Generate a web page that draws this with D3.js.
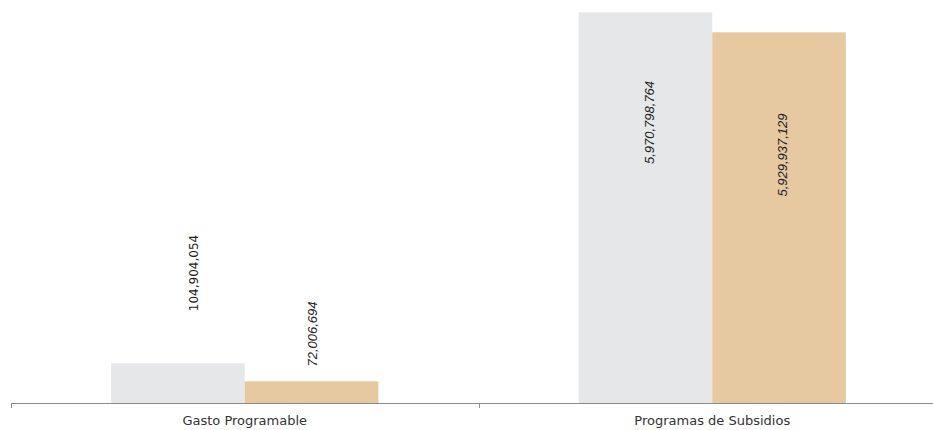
<!DOCTYPE html>
<html><head><meta charset="utf-8">
<script src="https://cdn.jsdelivr.net/npm/d3@7"></script>
<style>
html,body{margin:0;padding:0;background:#fff;}
svg{display:block;}
</style></head>
<body>
<svg id="chart" width="933" height="430"></svg>
<script>
const categories = ["Gasto Programable", "Programas de Subsidios"];
const seriesNames = ["Serie 1", "Serie 2"];
const series1 = [104904054, 5970798764];
const series2 = [72006694, 5929937129];
const labels1 = ["104,904,054", "5,970,798,764"];
const labels2 = ["72,006,694", "5,929,937,129"];
// per-category value domains (each category drawn on its own scale)
const catDomains = [[32350000, 746400000], [5172400000, 5970800000]];

(function () {
const colors = ["#E6E7E9", "#E6C9A0"];
const svg = d3.select("#chart");
const baseline = 403, plotTop = 12.3;

const x0 = d3.scaleBand().domain(categories).range([11, 946]).paddingInner(0).paddingOuter(0);
const x1 = d3.scaleBand().domain(seriesNames).range([0, x0.bandwidth()]).paddingInner(0).paddingOuter(0.75);
const yScales = catDomains.map(d => d3.scaleLinear().domain(d).range([baseline, plotTop]));

const data = categories.map((c, i) => ({
  cat: c, i,
  vals: [
    {s: seriesNames[0], v: series1[i], label: labels1[i]},
    {s: seriesNames[1], v: series2[i], label: labels2[i]}
  ]
}));

const groups = svg.selectAll("g.cat").data(data).join("g")
  .attr("class", "cat")
  .attr("transform", d => `translate(${x0(d.cat)},0)`);

groups.selectAll("rect").data(d => d.vals.map(v => ({...v, i: d.i}))).join("rect")
  .attr("x", d => x1(d.s))
  .attr("width", x1.bandwidth())
  .attr("y", d => yScales[d.i](d.v))
  .attr("height", d => baseline - yScales[d.i](d.v))
  .attr("fill", d => colors[seriesNames.indexOf(d.s)]);

// label placement (layout)
const labelPos = [
  [{dx: 20, y: 273, font: "DejaVu Sans", italic: false, size: 12}, {dx: 5, y: 334, font: "Liberation Sans", italic: true, size: 13}],
  [{dx: 9, y: 122.5, font: "Liberation Sans", italic: true, size: 13}, {dx: 8, y: 155, font: "Liberation Sans", italic: true, size: 13}]
];

groups.each(function(d) {
  const g = d3.select(this);
  d.vals.forEach((v, j) => {
    const p = labelPos[d.i][j];
    const cx = x1(v.s) + x1.bandwidth() / 2 + p.dx;
    g.append("text")
      .attr("transform", `translate(${cx},${p.y}) rotate(-90)`)
      .attr("text-anchor", "middle")
      .attr("font-family", p.font)
      .attr("font-size", p.size)
      .attr("font-style", p.italic ? "italic" : "normal")
      .attr("fill", "#222")
      .text(v.label);
  });
});

// axis
const axisG = svg.append("g").attr("transform", `translate(0,${baseline})`);
axisG.append("line").attr("x1", 11).attr("x2", 933).attr("y1", 0.5).attr("y2", 0.5)
  .attr("stroke", "#8a8a8a").attr("stroke-width", 1);
axisG.selectAll("line.tick").data(categories).join("line")
  .attr("class", "tick")
  .attr("x1", d => Math.round(x0(d)) + 0.5).attr("x2", d => Math.round(x0(d)) + 0.5)
  .attr("y1", 0).attr("y2", 5)
  .attr("stroke", "#8a8a8a");
axisG.selectAll("text").data(categories).join("text")
  .attr("x", d => x0(d) + x0.bandwidth() / 2)
  .attr("y", 22)
  .attr("text-anchor", "middle")
  .attr("font-family", "DejaVu Sans")
  .attr("font-size", 13)
  .attr("fill", "#333")
  .text(d => d);
})();
</script>
</body></html>
